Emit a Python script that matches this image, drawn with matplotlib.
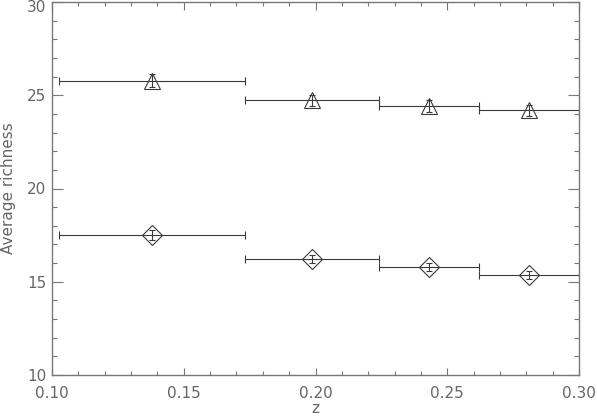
import numpy as np
import matplotlib
matplotlib.use("Agg")
from matplotlib import pyplot as plt
from matplotlib.transforms import ScaledTranslation

# redshift bins (edges) and bin centres
z_lo = [0.1027, 0.1731, 0.2242, 0.2621]
z_hi = [0.1731, 0.2242, 0.2621, 0.3000]
z_mid = [0.1380, 0.1987, 0.2432, 0.2811]

# average richness for the two samples
rich_tri = [25.77, 24.74, 24.42, 24.19]
err_tri = [0.35, 0.30, 0.30, 0.30]
rich_dia = [17.50, 16.24, 15.79, 15.36]
err_dia = [0.25, 0.22, 0.22, 0.22]

LINE = '#3a3a3a'
AXC = '#777777'
TXT = '#666666'

def main():
    plt.rcParams['font.family'] = ['DejaVu Sans']
    fig = plt.figure(figsize=(5.97, 4.20), dpi=100)
    ax = fig.add_axes([52/597, 45/420, 527/597, 373/420])

    z_mid_a = np.array(z_mid)
    xerr = [z_mid_a - np.array(z_lo), np.array(z_hi) - z_mid_a]

    for rich, err, mk in [(rich_tri, err_tri, '^'), (rich_dia, err_dia, 'D')]:
        # horizontal bin bars with end caps
        ax.errorbar(z_mid, rich, xerr=xerr, fmt='none', ecolor=LINE,
                    elinewidth=0.8, capsize=3, capthick=0.8)
        # small vertical errors
        ax.errorbar(z_mid, rich, yerr=err, fmt='none', ecolor=LINE,
                    elinewidth=0.8, capsize=2.5, capthick=0.8)
        ax.plot(z_mid, rich, linestyle='none', marker=mk,
                markersize=12 if mk == '^' else 10,
                markerfacecolor='none', markeredgecolor=LINE, markeredgewidth=0.8)

    ax.set_xlim(0.10, 0.30)
    ax.set_ylim(10, 30)
    ax.set_xticks(np.arange(0.10, 0.301, 0.05))
    ax.set_xticks(np.arange(0.10, 0.301, 0.01), minor=True)
    ax.set_yticks(np.arange(10, 31, 5))
    ax.set_yticks(np.arange(10, 31, 1), minor=True)
    ax.set_xticklabels(['0.10', '0.15', '0.20', '0.25', '0.30'])

    for s in ax.spines.values():
        s.set_color(AXC)
        s.set_linewidth(1.0)

    ax.tick_params(axis='both', which='both', direction='in', top=True, right=True,
                   colors=AXC, labelcolor=TXT, labelsize=11)
    ax.tick_params(axis='x', which='major', length=5.4, width=0.8, pad=8)
    ax.tick_params(axis='x', which='minor', length=2.7, width=0.8)
    ax.tick_params(axis='y', which='major', length=7.6, width=0.8, pad=4)
    ax.tick_params(axis='y', which='minor', length=3.8, width=0.8)

    # nudge the top "30" label down a little so it stays on the canvas
    top_lab = ax.get_yticklabels()[-1]
    top_lab.set_transform(top_lab.get_transform() + ScaledTranslation(0, -4/100, fig.dpi_scale_trans))

    ax.set_xlabel('z', color=TXT, fontsize=11, labelpad=0)
    ax.set_ylabel('Average richness', color=TXT, fontsize=11, labelpad=8)

    fig.savefig('out.png', dpi=100)

if __name__ == "__main__":
    main()
